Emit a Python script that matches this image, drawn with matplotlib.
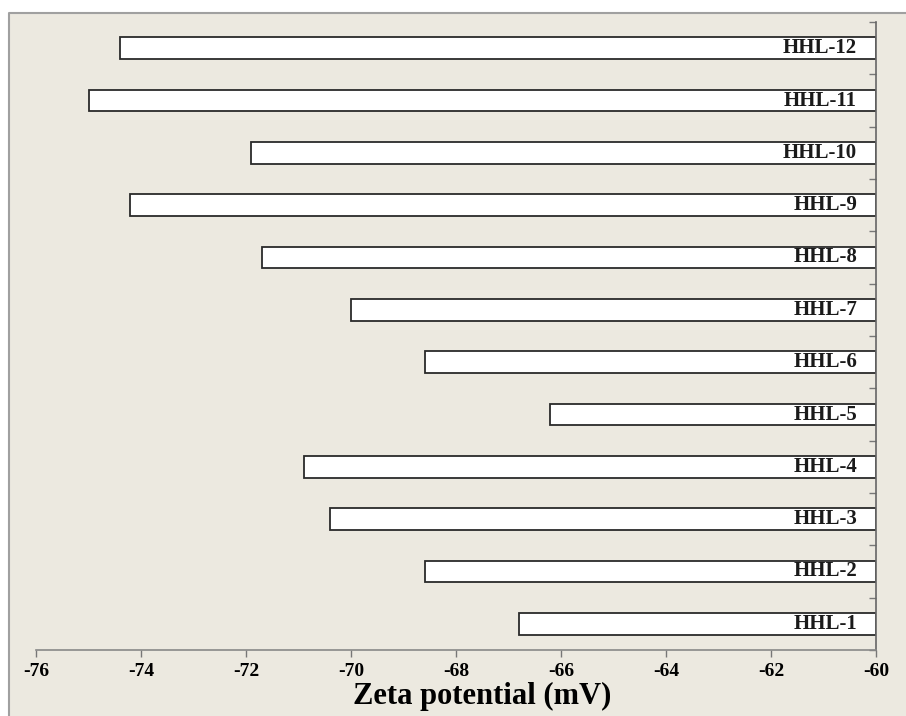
import matplotlib.pyplot as plt
from matplotlib.patches import Rectangle
from matplotlib.lines import Line2D

# sample names, bottom to top
samples = ["HHL-1", "HHL-2", "HHL-3", "HHL-4", "HHL-5", "HHL-6",
           "HHL-7", "HHL-8", "HHL-9", "HHL-10", "HHL-11", "HHL-12"]
zeta = [-66.8, -68.6, -70.4, -70.9, -66.2, -68.6,
        -70.0, -71.7, -74.2, -71.9, -75.0, -74.4]
xticks = [-76, -74, -72, -70, -68, -66, -64, -62, -60]

bg = "#ECE9E0"
serif = ["Liberation Serif", "DejaVu Serif"]

fig = plt.figure(figsize=(9.06, 7.16), dpi=100, facecolor="white")
x0, y1 = 9 / 906, 1 - 13 / 716
fig.add_artist(Rectangle((x0, 0), 1 - x0, y1, transform=fig.transFigure,
                         facecolor=bg, edgecolor="none", zorder=-10))
fig.add_artist(Line2D([x0, x0, 1], [0, y1, y1], transform=fig.transFigure,
                      color="#A0A0A0", linewidth=1.5, zorder=-9))

ax = fig.add_axes([36 / 906, 1 - 650 / 716, 840 / 906, 628 / 716])
ax.set_facecolor(bg)

pos = list(range(1, len(samples) + 1))
left = [-60] * len(zeta)
widths = [z - (-60) for z in zeta]
ax.barh(pos, widths, left=left, height=0.41, color="white",
        edgecolor="#2a2a2a", linewidth=1.3, zorder=2)

for p, name in zip(pos, samples):
    ax.text(-60.36, p, name, ha="right", va="center", family=serif,
            fontweight="bold", fontsize=15, color="#1a1a1a", zorder=3)

ax.set_xlim(-76, -60)
ax.set_ylim(0.5, 12.5)
ax.set_xticks(xticks)
ax.set_xticklabels([str(t) for t in xticks], family=serif, fontweight="bold", fontsize=14)

ax.yaxis.tick_right()
ax.set_yticks([p + 0.5 for p in range(0, len(samples) + 1)])
ax.set_yticklabels([])
ax.tick_params(axis="y", direction="in", length=5, color="#777777", width=1)
ax.tick_params(axis="x", direction="out", length=5, color="#777777", width=1, pad=4)

for side in ["left", "top"]:
    ax.spines[side].set_visible(False)
ax.spines["bottom"].set_color("#888888")
ax.spines["right"].set_color("#666666")
ax.spines["bottom"].set_linewidth(1.2)
ax.spines["right"].set_linewidth(1.2)

ax.set_xlabel("Zeta potential (mV)", family=serif, fontweight="bold", fontsize=22, labelpad=0)
ax.xaxis.set_label_coords((482 - 36) / 840, -0.051)

fig.savefig("out.png", dpi=100, facecolor="white")
